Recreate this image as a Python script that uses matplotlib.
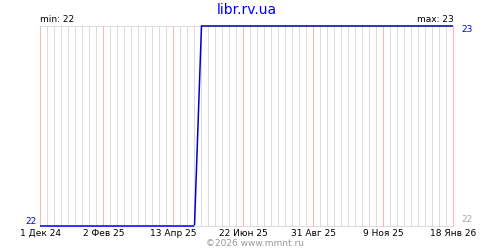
import numpy as np
import matplotlib
matplotlib.use("Agg")
import matplotlib.pyplot as plt
import matplotlib.dates as mdates
from matplotlib.collections import LineCollection
import datetime as dt

title = "libr.rv.ua"
start_date = dt.date(2024, 12, 1)
values = [22, 22, 22, 22, 22, 22, 22, 22, 22, 22,
          22, 22, 22, 22, 22, 22, 22, 22, 22, 22,
          22, 22, 22, 23, 23, 23, 23, 23, 23, 23,
          23, 23, 23, 23, 23, 23, 23, 23, 23, 23,
          23, 23, 23, 23, 23, 23, 23, 23, 23, 23,
          23, 23, 23, 23, 23, 23, 23, 23, 23, 23]
tick_labels = ["1 Дек 24", "2 Фев 25", "13 Апр 25", "22 Июн 25",
               "31 Авг 25", "9 Ноя 25", "18 Янв 26"]
tick_weeks = [0, 9, 19, 29, 39, 49, 59]

dates = [start_date + dt.timedelta(days=7 * i) for i in range(len(values))]
x = mdates.date2num(dates)
y = np.array(values, dtype=float)

fig = plt.figure(figsize=(5, 2.5), dpi=100)
ax = fig.add_axes([40.5 / 500, 24.5 / 250, 413 / 500, 200 / 250])
ax.set_xlim(x[0], x[-1])
ax.set_ylim(22, 23)
for s in ax.spines.values():
    s.set_visible(False)

# grid
gray_x = [xv for i, xv in enumerate(x) if i not in tick_weeks]
red_x = [x[i] for i in tick_weeks]
ax.vlines(gray_x, 22, 23, colors="#dcdcdc", lw=0.72, zorder=1, clip_on=False,
          antialiased=False)
ax.vlines(red_x, 22, 23, colors="#ffb4b4", lw=0.72, zorder=2, clip_on=False,
          antialiased=False)
ax.hlines([22, 23], x[0], x[-1], colors="#dcdcdc", lw=0.72, zorder=1, clip_on=False,
          antialiased=False)

# line coloured by value
pts = np.column_stack([x, y])
segs = np.stack([pts[:-1], pts[1:]], axis=1)
cmap = matplotlib.colors.LinearSegmentedColormap.from_list("c", ["#0000ff", "#0000a8"])
cols = [cmap((a + b) / 2 - 22) for a, b in zip(y[:-1], y[1:])]
lc = LineCollection(segs, colors=cols, lw=1.1, zorder=3, clip_on=False)
ax.add_collection(lc)

ax.set_xticks(red_x)
ax.set_xticklabels(tick_labels, fontsize=6.5, family="DejaVu Sans")
ax.tick_params(axis="x", length=0, pad=2.5)
ax.set_yticks([])

fs = 6.5
ax.text(0.5, 1.06, title, transform=ax.transAxes, ha="center", va="baseline",
        color="#0000ff", fontsize=10)
ax.text(0.0, 1.01, "min: 22", transform=ax.transAxes, ha="left", va="bottom",
        fontsize=fs, color="black")
ax.text(1.0, 1.01, "max: 23", transform=ax.transAxes, ha="right", va="bottom",
        fontsize=fs, color="black")
ax.text(1.02, 1.0, "23", transform=ax.transAxes, ha="left", va="top",
        fontsize=fs, color="#0000ff")
ax.text(-0.01, 0.0, "22", transform=ax.transAxes, ha="right", va="bottom",
        fontsize=fs, color="#0000ff")
ax.text(1.02, 0.01, "22", transform=ax.transAxes, ha="left", va="bottom",
        fontsize=fs, color="#aaaaaa")
fig.text(0.51, 0.01, "©2026 www.mmnt.ru", ha="center", va="bottom",
         fontsize=fs, color="#999999")

fig.savefig("out.png", dpi=100)
